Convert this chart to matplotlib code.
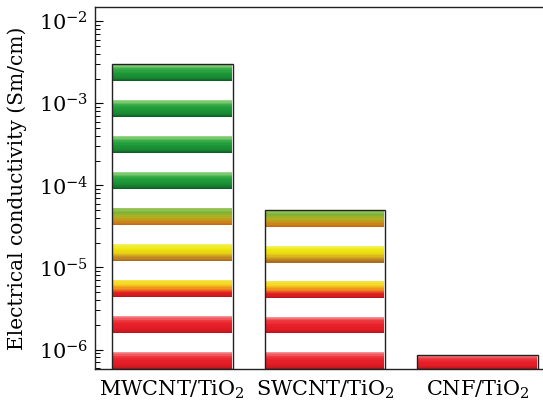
import numpy as np
import matplotlib
matplotlib.use("Agg")
import matplotlib.pyplot as plt
from matplotlib.colors import LinearSegmentedColormap

# data
samples = ["MWCNT/TiO$_2$", "SWCNT/TiO$_2$", "CNF/TiO$_2$"]
conductivity = [3.0e-3, 5.0e-5, 8.7e-7]   # S/cm
stripe_count = [9, 5, 1]

y_min, y_max = 5.8e-7, 1.5e-2

# colour ramps for each stripe (top -> bottom), counted from the bottom
red = ["#f7a0a4", "#ee3a40", "#e8202a", "#e01c26", "#b8141c"]
stripe_ramps = [
    red,
    red,
    ["#f6e84a", "#f3d41c", "#f08a1c", "#e42424", "#b8141c"],
    ["#f6f070", "#eeea10", "#e8d414", "#c89624", "#a8641c"],
    ["#a0cc60", "#7ab23a", "#b0b020", "#c8901c", "#c86414"],
    ["#a8dc90", "#3cae48", "#1e9a3a", "#1a8a34", "#0c5a22"],
]

plt.rcParams["font.family"] = ["DejaVu Serif"]
plt.rcParams["mathtext.fontset"] = "dejavuserif"

fig = plt.figure(figsize=(5.43, 4.05), dpi=100)
ax = fig.add_axes([0.175, 0.089, 0.83, 0.894])
ax.set_yscale("log")

x = np.arange(len(samples))
width = 0.79
stripe_h = 0.207   # decades
layers = 14

lo = np.log10(y_min)
for xi, val, n in zip(x, conductivity, stripe_count):
    ax.bar(xi, val - y_min, bottom=y_min, width=width, color="white",
           edgecolor="none", zorder=1)
    top = np.log10(val)
    span = top - lo
    if n == 1:
        h, gap = span, 0
    else:
        h = stripe_h
        gap = (span - n * h) / (n - 1)
    for k in range(n):
        s0 = lo + k * (h + gap)
        ramp = stripe_ramps[min(k, len(stripe_ramps) - 1)]
        cmap = LinearSegmentedColormap.from_list("s", ramp[::-1])
        edges = np.linspace(s0, s0 + h, layers + 1)
        for j in range(layers):
            b0, b1 = 10 ** edges[j], 10 ** edges[j + 1]
            ax.bar(xi, b1 - b0, bottom=b0, width=width * 0.985,
                   color=cmap((j + 0.5) / layers), edgecolor="none",
                   linewidth=0, zorder=2)
    ax.bar(xi, val - y_min, bottom=y_min, width=width, fill=False,
           edgecolor="#222222", linewidth=1.0, zorder=3)

ax.set_ylim(y_min, y_max)
ax.set_xlim(-0.507, 2.447)
ax.set_xticks(x)
ax.set_xticklabels(samples, fontsize=15)
ax.tick_params(axis="x", length=0, pad=7)
ax.tick_params(axis="y", which="major", direction="in", length=6,
               labelsize=15, width=0.8, pad=5)
ax.tick_params(axis="y", which="minor", direction="in", length=3.5, width=0.7)
ax.set_ylabel("Electrical conductivity (Sm/cm)", fontsize=14.5, labelpad=8)

ax.spines["right"].set_visible(False)
for sp in ["left", "bottom", "top"]:
    ax.spines[sp].set_linewidth(1.0)
    ax.spines[sp].set_color("#222222")

fig.savefig("out.png", dpi=100)
